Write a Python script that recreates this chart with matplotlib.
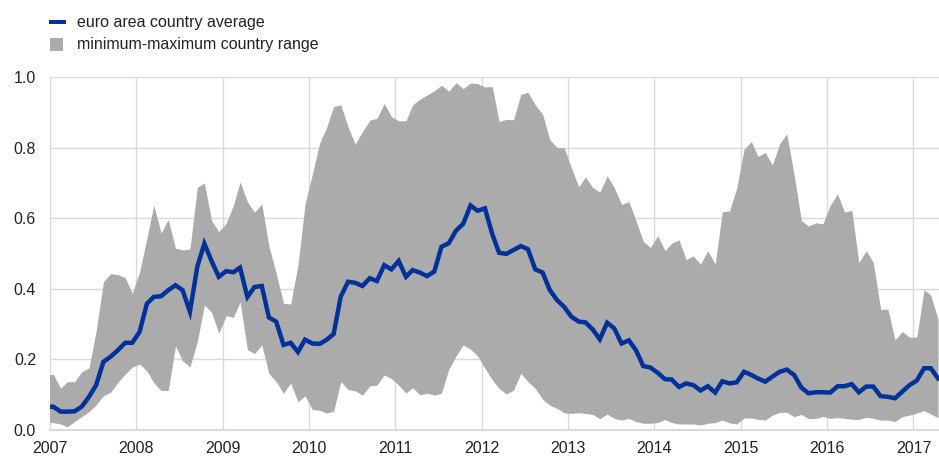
import numpy as np
import pandas as pd
import matplotlib
matplotlib.use('Agg')
import matplotlib.pyplot as plt
import matplotlib.dates as mdates
from matplotlib.patches import Rectangle

plt.rcParams['font.family'] = ['Liberation Sans', 'DejaVu Sans']

# monthly observations, Dec 2006 - Apr 2017 (plotted mid-month)
months = pd.date_range('2006-12-01', '2017-04-01', freq='MS') + pd.Timedelta(days=14)

avg = [0.066,
       0.066, 0.052, 0.052, 0.053, 0.066, 0.094, 0.127, 0.193, 0.208, 0.226, 0.247, 0.247,
       0.278, 0.358, 0.377, 0.379, 0.396, 0.410, 0.396, 0.335, 0.462, 0.528, 0.478, 0.434,
       0.450, 0.447, 0.460, 0.377, 0.405, 0.408, 0.319, 0.307, 0.241, 0.247, 0.221, 0.256,
       0.245, 0.244, 0.255, 0.272, 0.378, 0.420, 0.417, 0.408, 0.430, 0.422, 0.467, 0.455,
       0.479, 0.434, 0.453, 0.446, 0.436, 0.449, 0.519, 0.529, 0.565, 0.584, 0.636, 0.621,
       0.628, 0.555, 0.502, 0.499, 0.510, 0.521, 0.512, 0.455, 0.446, 0.397, 0.368, 0.349,
       0.321, 0.307, 0.305, 0.285, 0.257, 0.304, 0.288, 0.245, 0.254, 0.226, 0.181, 0.177,
       0.162, 0.144, 0.143, 0.122, 0.132, 0.127, 0.112, 0.124, 0.106, 0.138, 0.132, 0.135,
       0.165, 0.156, 0.146, 0.137, 0.151, 0.165, 0.171, 0.156, 0.120, 0.104, 0.107, 0.107,
       0.106, 0.124, 0.124, 0.130, 0.107, 0.123, 0.123, 0.096, 0.094, 0.090, 0.109, 0.127,
       0.140, 0.175, 0.175, 0.146]

vmax = [0.155,
        0.158, 0.118, 0.137, 0.137, 0.165, 0.176, 0.280, 0.420, 0.443, 0.440, 0.432, 0.387,
        0.448, 0.543, 0.637, 0.558, 0.596, 0.515, 0.510, 0.513, 0.687, 0.700, 0.593, 0.562,
        0.585, 0.637, 0.703, 0.647, 0.617, 0.640, 0.521, 0.444, 0.359, 0.357, 0.467, 0.640,
        0.725, 0.814, 0.855, 0.916, 0.921, 0.859, 0.810, 0.845, 0.878, 0.883, 0.925, 0.888,
        0.876, 0.876, 0.921, 0.937, 0.949, 0.961, 0.977, 0.960, 0.984, 0.967, 0.983, 0.981,
        0.972, 0.973, 0.874, 0.880, 0.879, 0.951, 0.957, 0.921, 0.895, 0.823, 0.800, 0.800,
        0.742, 0.689, 0.717, 0.687, 0.674, 0.720, 0.687, 0.639, 0.647, 0.593, 0.534, 0.517,
        0.550, 0.508, 0.529, 0.539, 0.483, 0.493, 0.470, 0.508, 0.470, 0.618, 0.621, 0.685,
        0.795, 0.817, 0.775, 0.786, 0.751, 0.811, 0.839, 0.723, 0.593, 0.578, 0.587, 0.584,
        0.637, 0.669, 0.617, 0.622, 0.474, 0.508, 0.475, 0.342, 0.342, 0.255, 0.279, 0.263,
        0.263, 0.398, 0.382, 0.313]

vmin = [0.021,
        0.021, 0.017, 0.009, 0.024, 0.038, 0.052, 0.071, 0.097, 0.107, 0.135, 0.158, 0.178,
        0.187, 0.167, 0.134, 0.112, 0.112, 0.238, 0.196, 0.179, 0.250, 0.354, 0.333, 0.274,
        0.324, 0.319, 0.363, 0.228, 0.216, 0.241, 0.160, 0.137, 0.104, 0.133, 0.080, 0.097,
        0.058, 0.056, 0.048, 0.053, 0.137, 0.115, 0.111, 0.099, 0.125, 0.127, 0.156, 0.146,
        0.127, 0.105, 0.120, 0.100, 0.104, 0.099, 0.104, 0.172, 0.210, 0.241, 0.229, 0.210,
        0.175, 0.142, 0.118, 0.102, 0.113, 0.161, 0.137, 0.118, 0.087, 0.071, 0.061, 0.049,
        0.047, 0.049, 0.047, 0.044, 0.032, 0.045, 0.033, 0.028, 0.033, 0.024, 0.019, 0.019,
        0.021, 0.030, 0.021, 0.017, 0.017, 0.017, 0.014, 0.019, 0.021, 0.028, 0.020, 0.017,
        0.034, 0.034, 0.030, 0.028, 0.042, 0.050, 0.050, 0.038, 0.044, 0.032, 0.033, 0.038,
        0.033, 0.035, 0.033, 0.030, 0.030, 0.036, 0.033, 0.028, 0.028, 0.024, 0.038, 0.042,
        0.048, 0.055, 0.045, 0.035]

labels = ['euro area country average', 'minimum-maximum country range']

blue = '#003299'
grey = '#ababab'
W, H = 939, 457

fig = plt.figure(figsize=(W / 100, H / 100), dpi=100)
ax = fig.add_axes([50 / W, 27 / H, 889 / W, 353 / H])

ax.fill_between(months, vmin, vmax, color=grey, lw=0, zorder=2)
ax.plot(months, avg, color=blue, lw=3.2, solid_joinstyle='miter', zorder=3)

ax.set_ylim(0, 1.0)
ax.set_xlim(pd.Timestamp('2007-01-01'), pd.Timestamp('2017-04-19'))
ax.set_yticks(np.arange(0, 1.01, 0.2))
ax.yaxis.set_major_formatter(matplotlib.ticker.FormatStrFormatter('%.1f'))
ax.xaxis.set_major_locator(mdates.YearLocator())
ax.xaxis.set_major_formatter(mdates.DateFormatter('%Y'))

ax.set_axisbelow(True)
ax.grid(True, color='#d9d9d9', lw=1)
for s in ['top', 'right', 'left']:
    ax.spines[s].set_visible(False)
ax.spines['bottom'].set_color('#d9d9d9')
ax.spines['bottom'].set_linewidth(1.5)
ax.tick_params(axis='both', length=0, labelsize=11.5, labelcolor='#222222')
ax.tick_params(axis='y', pad=10)
ax.tick_params(axis='x', pad=8)

# legend drawn by hand (figure pixel positions)
fig.add_artist(Rectangle((49 / W, 1 - 24 / H), 17 / W, 4 / H, transform=fig.transFigure,
                         facecolor=blue, edgecolor='none'))
fig.add_artist(Rectangle((50 / W, 1 - 51 / H), 13 / W, 13 / H, transform=fig.transFigure,
                         facecolor=grey, edgecolor='none'))
fig.text(77 / W, 1 - 22 / H, labels[0], fontsize=11.5, color='#222222', va='center')
fig.text(77 / W, 1 - 44.5 / H, labels[1], fontsize=11.5, color='#222222', va='center')

fig.savefig('out.png', dpi=100)
